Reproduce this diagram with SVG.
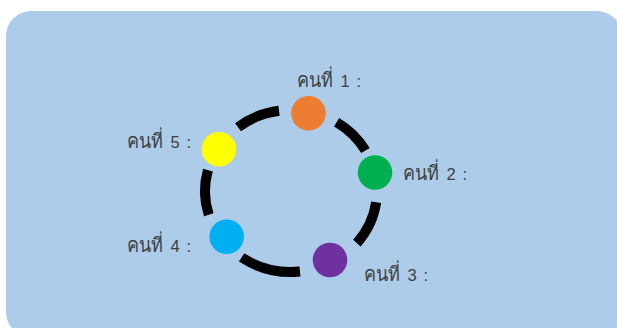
<svg xmlns="http://www.w3.org/2000/svg" width="617" height="328" viewBox="0 0 617 328">
  <style>
    .bg { fill: #adcce9; }
    .ring { fill: none; stroke: #000; stroke-width: 10; stroke-linecap: butt; }
    .lbl { font-family: "Liberation Sans", "Noto Sans", "DejaVu Sans", sans-serif; fill: #404040; }
    .th { font-size: 20px; }
    .num { font-size: 16.5px; }
  </style>
  <rect class="bg" x="6" y="11" width="616" height="326" rx="25" ry="25"/>
  <g id="connectors">
    <path class="ring" d="M238.05,127.17 A86,81 0 0 1 279.03,110.79"/>
    <path class="ring" d="M336.57,122.31 A86,81 0 0 1 365.48,150.5"/>
    <path class="ring" d="M376.16,202.27 A86,81 0 0 1 356.88,243.07"/>
    <path class="ring" d="M299.99,271.56 A86,81 0 0 1 241.67,257.35"/>
    <path class="ring" d="M208.76,214.68 A86,81 0 0 1 207.93,170.04"/>
  </g>
  <g id="node1">
    <circle cx="308.5" cy="113.3" r="17.3" fill="#ed7d31"/>
    <text class="lbl" y="87"><tspan class="th" x="297" textLength="36" lengthAdjust="spacingAndGlyphs">คนที่</tspan><tspan class="num" x="336"> 1</tspan><tspan class="num" x="352"> :</tspan></text>
  </g>
  <g id="node2">
    <circle cx="375" cy="172.5" r="17.3" fill="#00b050"/>
    <text class="lbl" y="180"><tspan class="th" x="403" textLength="36" lengthAdjust="spacingAndGlyphs">คนที่</tspan><tspan class="num" x="442"> 2</tspan><tspan class="num" x="458"> :</tspan></text>
  </g>
  <g id="node3">
    <circle cx="330" cy="260" r="17.3" fill="#7030a0"/>
    <text class="lbl" y="281"><tspan class="th" x="364" textLength="36" lengthAdjust="spacingAndGlyphs">คนที่</tspan><tspan class="num" x="403"> 3</tspan><tspan class="num" x="419"> :</tspan></text>
  </g>
  <g id="node4">
    <circle cx="226.7" cy="236.7" r="17.3" fill="#00b0f0"/>
    <text class="lbl" y="252"><tspan class="th" x="127" textLength="36" lengthAdjust="spacingAndGlyphs">คนที่</tspan><tspan class="num" x="166"> 4</tspan><tspan class="num" x="182"> :</tspan></text>
  </g>
  <g id="node5">
    <circle cx="219" cy="149.3" r="17.3" fill="#ffff00"/>
    <text class="lbl" y="148"><tspan class="th" x="127" textLength="36" lengthAdjust="spacingAndGlyphs">คนที่</tspan><tspan class="num" x="166"> 5</tspan><tspan class="num" x="182"> :</tspan></text>
  </g>
</svg>
